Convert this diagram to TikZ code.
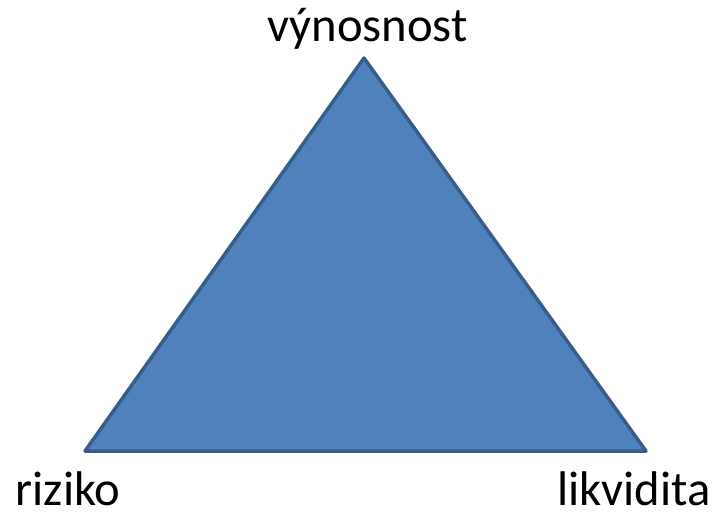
\documentclass[tikz,border=0pt]{standalone}
\usepackage{fontspec}
\setmainfont{Carlito}
\begin{document}
\begin{tikzpicture}[x=0.75pt,y=-0.75pt,
  corner/.style={font=\fontsize{36.5pt}{44pt}\selectfont, anchor=base, inner sep=0pt, text=black},
  tri/.style={fill={rgb,255:red,79;green,129;blue,189}, draw={rgb,255:red,56;green,93;blue,138}, line width=2.6pt, line join=round}]
  \useasboundingbox (0,0) rectangle (712,512);
  \coordinate (top) at (364,58);
  \coordinate (left) at (85,451);
  \coordinate (right) at (646,451);
  \draw[tri] (top) -- (right) -- (left) -- cycle;
  \node[corner] (vynosnost) at (367.5,41) {výnosnost};
  \node[corner] (riziko) at (68,505) {riziko};
  \node[corner] (likvidita) at (634,505) {likvidita};
\end{tikzpicture}
\end{document}
